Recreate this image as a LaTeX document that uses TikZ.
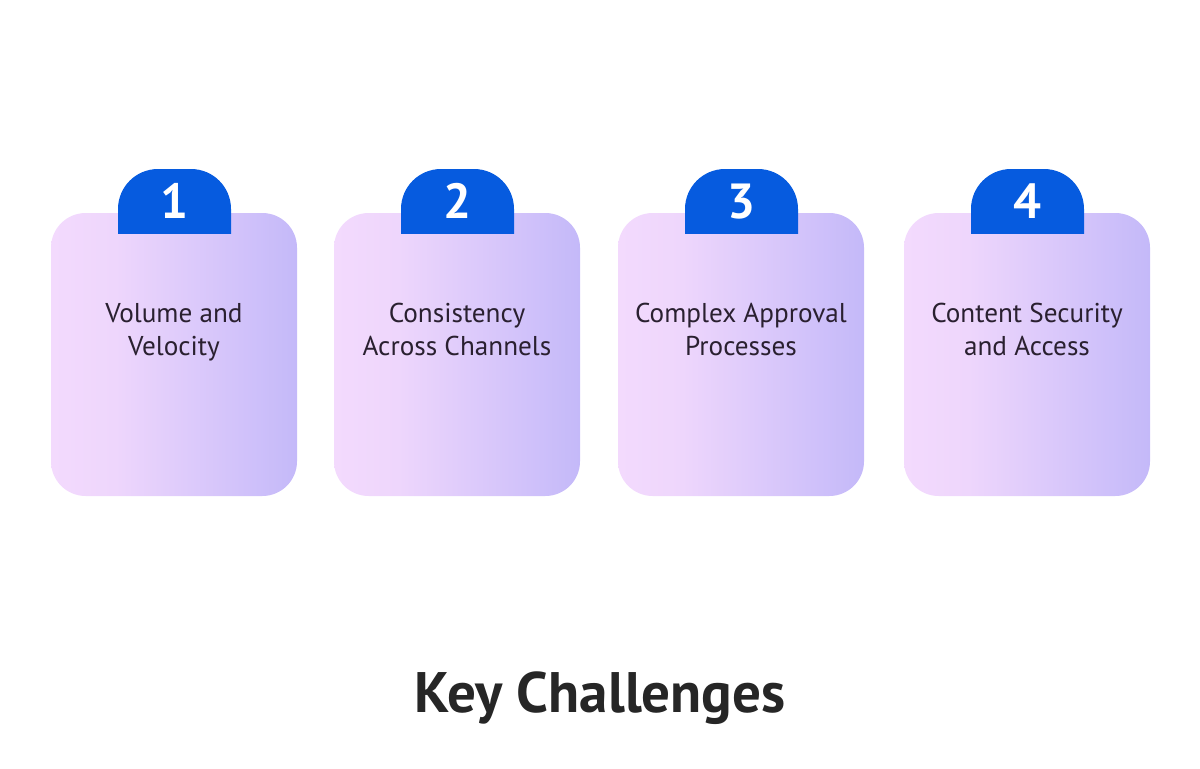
\documentclass[tikz,border=0pt]{standalone}
\usepackage{fontspec}
\setmainfont{PT Sans}
\definecolor{pinkc}{RGB}{243,218,253}
\definecolor{pinkm}{RGB}{238,214,252}
\definecolor{purplec}{RGB}{196,185,249}
\definecolor{tabblue}{RGB}{6,91,223}
\definecolor{txt}{RGB}{42,32,48}
\definecolor{titlec}{RGB}{38,38,38}
\pgfdeclarehorizontalshading{cardshade}{100bp}{color(0bp)=(pinkc); color(25bp)=(pinkc); color(38bp)=(pinkm); color(75bp)=(purplec); color(100bp)=(purplec)}
\begin{document}
\begin{tikzpicture}[x=0.75pt,y=-0.75pt,
  card/.style={minimum width=184.5pt,minimum height=212.25pt,rounded corners=26pt,shading=cardshade,inner sep=0pt},
  cardtext/.style={align=center,anchor=base,inner sep=0pt,text=txt,font=\fontsize{20.4}{24.75}\selectfont},
  numtext/.style={anchor=base,text=white,font=\bfseries\fontsize{37}{40}\selectfont,inner sep=0pt},
  tab/.style={fill=tabblue,rounded corners=30pt}]
\useasboundingbox (0,0) rectangle (1200,768);
\foreach \i/\cx/\tx/\lbl in {1/174/174.5/{Volume and\\Velocity},2/457/457.5/{Consistency\\Across Channels},3/741/741.5/{Complex Approval\\Processes},4/1027/1027.5/{Content Security\\and Access}}{
  \node[card] (c\i) at (\cx,354.5) {};
  \begin{scope}
    \clip (\tx-60,160) rectangle (\tx+60,233);
    \fill[tab] (\tx-56.5,169) rectangle (\tx+56.5,290);
  \end{scope}
  \node[numtext] (n\i) at (\tx,218) {\i};
  \node[cardtext] (t\i) at (\cx,355) {\lbl};
}
\node[anchor=base,text=titlec,font=\bfseries\fontsize{42.8}{48}\selectfont,inner sep=0pt] (title) at (600,712) {Key Challenges};
\end{tikzpicture}
\end{document}
